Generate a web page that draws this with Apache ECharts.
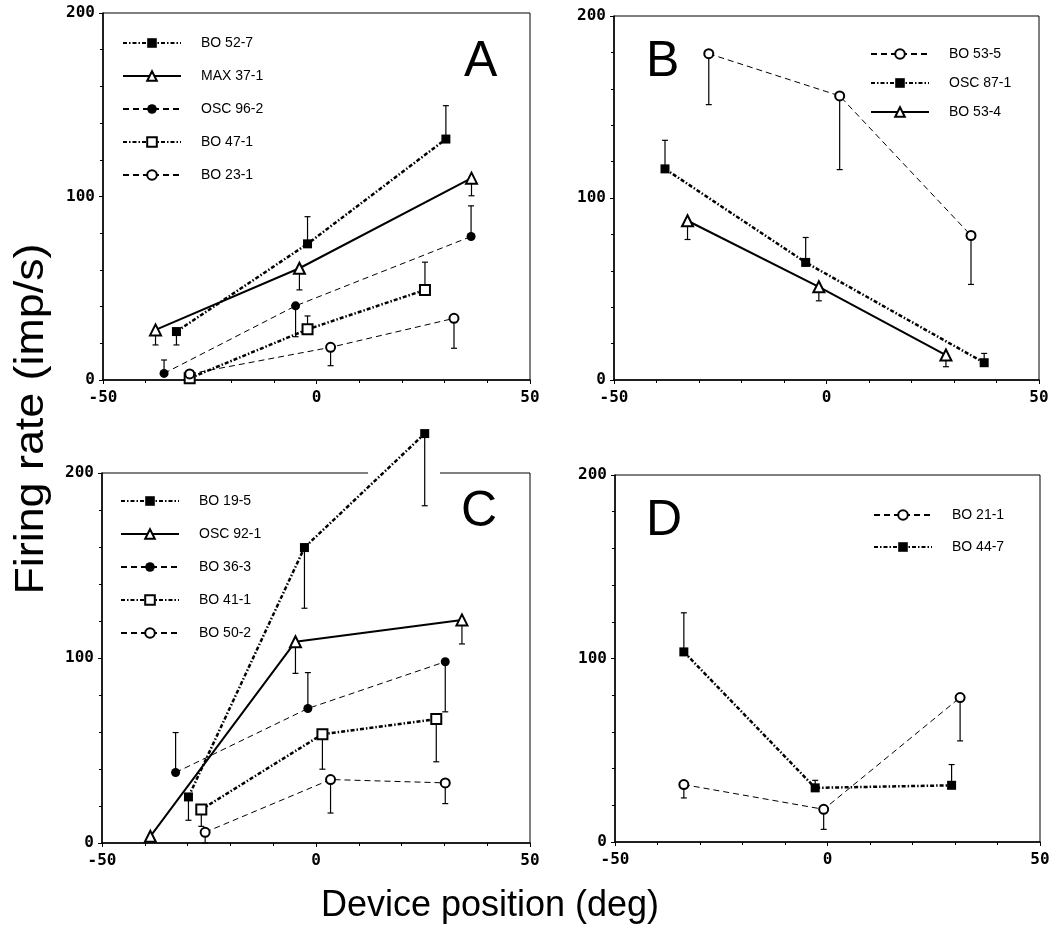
<!DOCTYPE html>
<html>
<head>
<meta charset="utf-8">
<script src="https://cdn.jsdelivr.net/npm/echarts@6/dist/echarts.min.js"></script>
<style>
  html, body { margin: 0; padding: 0; background: #fff; }
  #main { width: 1054px; height: 927px; }
</style>
</head>
<body>
<div id="main"></div>
<script>
// data: x = device position (deg), y = firing rate (imp/s),
// bar = end of the one-sided error bar (null when none is drawn)

// panel A
var namesA = ['BO 52-7', 'MAX 37-1', 'OSC 96-2', 'BO 47-1', 'BO 23-1'];
var posA = [[-32.8, -2.1, 30.3], [-37.7, -4.0, 36.3], [-35.7, -4.9, 36.2], [-29.7, -2.1, 25.4], [-29.7, 3.3, 32.2]];
var rateA = [[26.4, 74.2, 131.3], [27.3, 60.9, 110.0], [3.6, 40.4, 78.2], [1.0, 27.6, 49.1], [3.3, 17.8, 33.6]];
var barA = [[19.1, 89.0, 149.5], [19.1, 49.1, 100.4], [10.9, 23.6, 94.9], [null, 34.9, 64.2], [null, 7.8, 17.3]];

// panel B
var namesB = ['BO 53-5', 'OSC 87-1', 'BO 53-4'];
var posB = [[-27.7, 3.1, 34.0], [-38.0, -4.9, 37.1], [-32.7, -1.8, 28.1]];
var rateB = [[179.3, 156.1, 79.4], [116.0, 64.6, 9.5], [87.5, 51.2, 13.7]];
var barB = [[151.3, 115.6, 52.5], [131.7, 78.3, 14.6], [77.2, 43.5, 7.3]];

// panel C
var namesC = ['BO 19-5', 'OSC 92-1', 'BO 36-3', 'BO 41-1', 'BO 50-2'];
var posC = [[-29.8, -2.7, 25.4], [-38.7, -4.8, 34.1], [-32.8, -1.9, 30.2], [-26.8, 1.5, 28.1], [-25.9, 3.4, 30.2]];
var rateC = [[24.9, 159.7, 221.3], [3.6, 108.8, 120.6], [38.1, 72.7, 98.0], [18.1, 58.8, 67.0], [5.8, 34.3, 32.5]];
var barC = [[12.3, 126.9, 182.3], [null, 91.7, 107.6], [59.7, 92.1, 70.9], [9.0, 39.9, 43.9], [0, 16.2, 21.3]];

// panel D
var namesD = ['BO 21-1', 'BO 44-7'];
var posD = [[-33.8, -0.9, 31.2], [-33.8, -2.9, 29.2]];
var rateD = [[31.3, 17.8, 78.7], [103.6, 29.5, 30.9]];
var barD = [[24.0, 6.9, 55.1], [124.9, 33.6, 42.2]];

var xTicks = [-50, 0, 50];
var yTicks = [0, 100, 200];
var panelLetters = ['A', 'B', 'C', 'D'];

// marker / line kind per series
var kindA = ['sqFill', 'tri', 'dotFill', 'sqOpen', 'dotOpen'];
var kindB = ['dotOpen', 'sqFill', 'tri'];
var kindC = ['sqFill', 'tri', 'dotFill', 'sqOpen', 'dotOpen'];
var kindD = ['dotOpen', 'sqFill'];

var dashDot = [4, 2, 1.5, 2];
var styles = {
    sqFill:  { symbol: 'rect', size: 9, line: { width: 2.5, type: dashDot } },
    sqOpen:  { symbol: 'emptyRect', size: 10, line: { width: 2.5, type: dashDot } },
    tri:     { symbol: 'emptyTriangle', size: 11, line: { width: 2, type: 'solid' } },
    dotFill: { symbol: 'circle', size: 9, line: { width: 1, type: [6, 4] } },
    dotOpen: { symbol: 'emptyCircle', size: 9, line: { width: 1, type: [6, 4] } }
};

var grids = [
    { left: 103, top: 13, width: 427, height: 367 },
    { left: 614, top: 16, width: 425, height: 364 },
    { left: 102, top: 473, width: 428, height: 370 },
    { left: 615, top: 475, width: 425, height: 367 }
];

var panels = [
    { names: namesA, pos: posA, rate: rateA, bar: barA, kind: kindA },
    { names: namesB, pos: posB, rate: rateB, bar: barB, kind: kindB },
    { names: namesC, pos: posC, rate: rateC, bar: barC, kind: kindC },
    { names: namesD, pos: posD, rate: rateD, bar: barD, kind: kindD }
];

var tickFont = { color: '#000', fontFamily: 'DejaVu Sans Mono', fontWeight: 'bold', fontSize: 16 };

function renderBar(params, api) {
    var p0 = api.coord([api.value(0), api.value(1)]);
    var p1 = api.coord([api.value(0), api.value(2)]);
    var st = { stroke: '#000', lineWidth: 1.2 };
    return {
        type: 'group',
        children: [
            { type: 'line', shape: { x1: p0[0], y1: p0[1], x2: p1[0], y2: p1[1] }, style: st },
            { type: 'line', shape: { x1: p1[0] - 3, y1: p1[1], x2: p1[0] + 3, y2: p1[1] }, style: st }
        ]
    };
}

var xAxes = [], yAxes = [], series = [], legends = [], titles = [];

grids.forEach(function (g, i) {
    xAxes.push({
        type: 'value', gridIndex: i, min: xTicks[0], max: xTicks[2], interval: 50,
        axisLine: { onZero: false, lineStyle: { color: '#000', width: 1.5 } },
        axisTick: { length: 4, lineStyle: { color: '#000' } },
        minorTick: { show: true, splitNumber: 5, length: 3, lineStyle: { color: '#000' } },
        splitLine: { show: false },
        axisLabel: Object.assign({ margin: 10 }, tickFont)
    });
    yAxes.push({
        type: 'value', gridIndex: i, min: yTicks[0], max: yTicks[2], interval: 100,
        axisLine: { onZero: false, lineStyle: { color: '#000', width: 1.5 } },
        axisTick: { length: 4, lineStyle: { color: '#000' } },
        minorTick: { show: true, splitNumber: 5, length: 3, lineStyle: { color: '#000' } },
        splitLine: { show: false },
        axisLabel: Object.assign({ margin: 8 }, tickFont)
    });

    var p = panels[i];
    p.names.forEach(function (name, k) {
        var st = styles[p.kind[k]];
        var pts = p.pos[k].map(function (x, j) { return [x, p.rate[k][j]]; });
        var bars = [];
        p.pos[k].forEach(function (x, j) {
            if (p.bar[k][j] !== null) bars.push([x, p.rate[k][j], p.bar[k][j]]);
        });
        series.push({
            type: 'custom', name: name + ' sd', xAxisIndex: i, yAxisIndex: i,
            renderItem: renderBar, data: bars, z: 2, silent: true,
            encode: { x: 0, y: [1, 2] }
        });
        series.push({
            type: 'line', name: name, xAxisIndex: i, yAxisIndex: i, data: pts,
            color: '#000', symbol: st.symbol, symbolSize: st.size, showAllSymbol: true,
            clip: false, z: 3,
            itemStyle: { color: '#000', borderWidth: 1.3 },
            lineStyle: { color: '#000', width: st.line.width, type: st.line.type }
        });
    });
});

var legendFont = { color: '#000', fontFamily: 'Liberation Sans', fontSize: 14, padding: [0, 0, 0, 15] };
var legendPos = [
    { left: 122, top: 36, itemGap: 19 },
    { left: 870, top: 47, itemGap: 15 },
    { left: 120, top: 494, itemGap: 19 },
    { left: 873, top: 508, itemGap: 18 }
];
panels.forEach(function (p, i) {
    legends.push(Object.assign({
        data: p.names, orient: 'vertical', itemWidth: 58, itemHeight: 12,
        padding: 0, selectedMode: false, textStyle: legendFont
    }, legendPos[i]));
});

var letterPos = [
    { left: 464, top: 37 },
    { left: 646, top: 37 },
    { left: 461, top: 487 },
    { left: 646, top: 496 }
];
panelLetters.forEach(function (t, i) {
    titles.push(Object.assign({
        text: t, padding: 0,
        textStyle: { color: '#000', fontFamily: 'Liberation Sans', fontWeight: 'normal', fontSize: 50 }
    }, letterPos[i]));
});

var chart = echarts.init(document.getElementById('main'), null, { renderer: 'canvas' });
chart.setOption({
    animation: false,
    backgroundColor: '#fff',
    title: titles,
    legend: legends,
    grid: grids.map(function (g) {
        return Object.assign({ show: true, borderColor: '#000', borderWidth: 1, containLabel: false }, g);
    }),
    xAxis: xAxes,
    yAxis: yAxes,
    series: series,
    graphic: [
        // break in the top frame of panel C where the curve runs through it
        { type: 'rect', z: 1, shape: { x: 368, y: 470, width: 72, height: 6 }, style: { fill: '#fff' } },
        {
            type: 'text', x: 32, y: 419, rotation: Math.PI / 2, scaleX: 1.12,
            style: { text: 'Firing rate (imp/s)', fill: '#000', font: '40px "Liberation Sans"', align: 'center', verticalAlign: 'middle' }
        },
        {
            type: 'text', x: 490, y: 906,
            style: { text: 'Device position (deg)', fill: '#000', font: '36px "Liberation Sans"', align: 'center', verticalAlign: 'middle' }
        }
    ]
});
</script>
</body>
</html>
